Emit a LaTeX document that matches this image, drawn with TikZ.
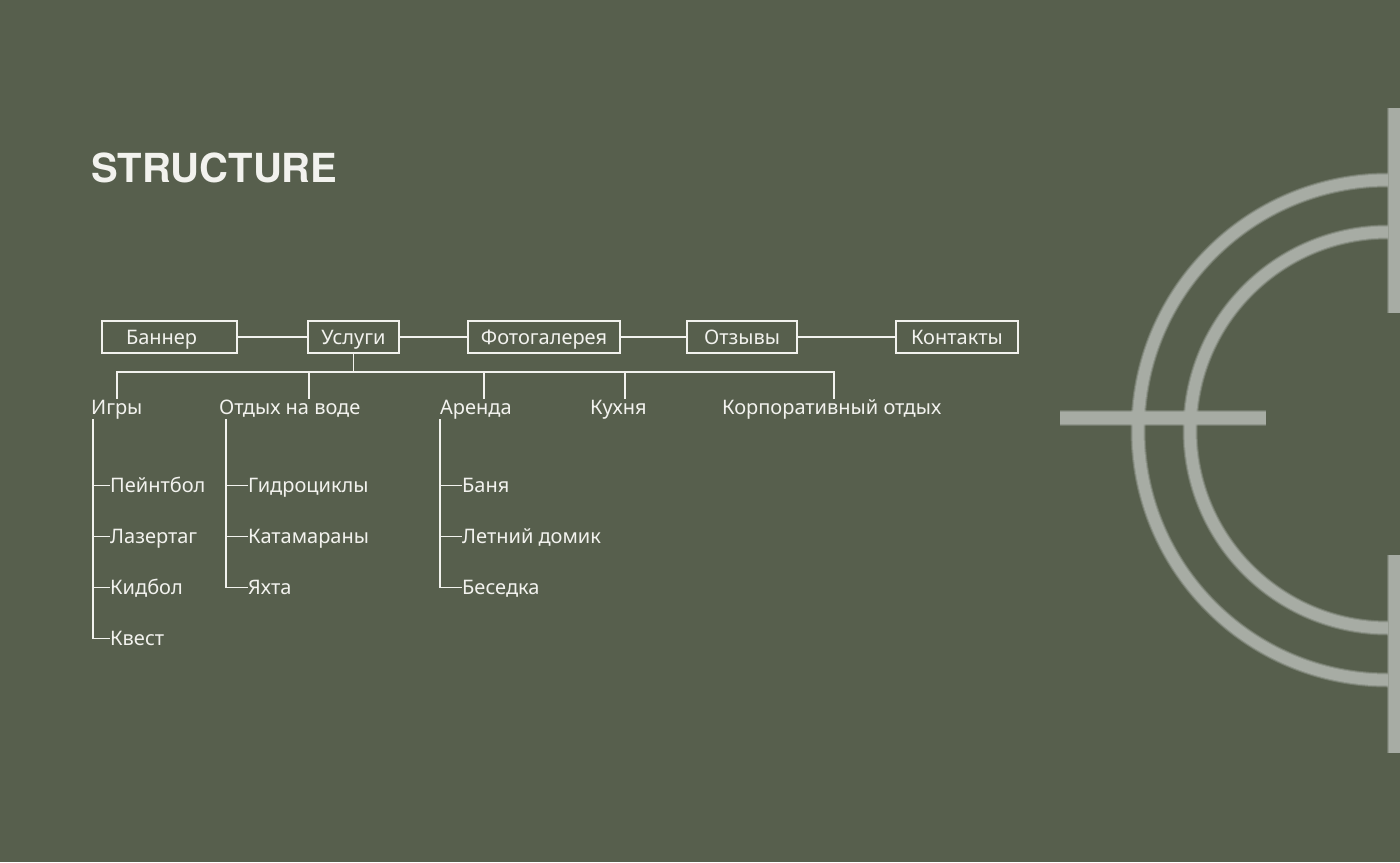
\documentclass[tikz,border=0pt]{standalone}
\usepackage{fontspec}
\setmainfont{Noto Sans}
\newfontfamily\titlefont{TeX Gyre Heros}
\definecolor{bg}{HTML}{575F4D}
\definecolor{ink}{HTML}{F2F2EE}
\definecolor{ring}{HTML}{A7ACA4}
\tikzset{
  menubox/.style={draw=ink, line width=1.8pt, text=ink, minimum height=32pt,
    text height=14pt, text depth=0pt, inner ysep=0pt},
  cat/.style={anchor=base west, text=ink, inner sep=2pt, text height=13pt, text depth=4pt},
  item/.style={anchor=base west, text=ink, inner sep=0pt, text height=13pt, text depth=0pt},
  wire/.style={draw=ink, line width=1.8pt},
  title/.style={anchor=base west, text=ink, inner sep=0pt,
    font=\titlefont\bfseries\fontsize{40}{40}\selectfont},
}
\begin{document}
\begin{tikzpicture}[x=1pt, y=-1pt, font=\fontsize{20}{22}\selectfont]
\fill[bg] (0,0) rectangle (1400,862);
\useasboundingbox (0,0) rectangle (1400,862);

% sight
\coordinate (ringc) at (1388,430);
\begin{scope}
\clip (0,0) rectangle (1388,862);
\foreach \w/\o in {15/0.35, 13/0.6, 11/1} {
  \draw[ring, line width=\w pt, opacity=\o] (ringc) circle[radius=250];
  \draw[ring, line width=\w pt, opacity=\o] (ringc) circle[radius=198];
}
\end{scope}
\foreach \w/\o in {16/0.35, 14/0.6, 12/1} {
  \draw[ring, line width=\w pt, opacity=\o] (1060,418) -- (1266,418);
  \draw[ring, line width=\w pt, opacity=\o] (1395,108) -- (1395,313);
  \draw[ring, line width=\w pt, opacity=\o] (1395,555) -- (1395,753);
}

\node[title] (title) at (91,182) {STRUCTURE};

\node[menubox, text width=87pt, align=left, inner xsep=24pt] (banner) at (169.5,337) {Баннер};
\node[menubox, minimum width=91pt] (services) at (353.5,337) {Услуги};
\node[menubox, minimum width=152pt] (gallery) at (544,337) {Фотогалерея};
\node[menubox, minimum width=110pt] (reviews) at (742,337) {Отзывы};
\node[menubox, minimum width=122pt] (contacts) at (957,337) {Контакты};

\draw[wire] (banner) -- (services);
\draw[wire] (services) -- (gallery);
\draw[wire] (gallery) -- (reviews);
\draw[wire] (reviews) -- (contacts);

\node[cat] (games) at (89,414) {Игры};
\node[cat] (water) at (217,414) {Отдых на воде};
\node[cat] (rent) at (438,414) {Аренда};
\node[cat] (kitchen) at (588,414) {Кухня};
\node[cat] (corporate) at (720,414) {Корпоративный отдых};

\coordinate (dgames) at (117,372);
\coordinate (dwater) at (309,372);
\coordinate (drent) at (484,372);
\coordinate (dkitchen) at (625,372);
\coordinate (dcorporate) at (834,372);

\draw[wire] (services.south) -- (services.south |- dgames);
\draw[wire] (dgames |- games.north) -- (dgames) -- (dcorporate) -- (dcorporate |- corporate.north);
\foreach \n in {water,rent,kitchen}
  \draw[wire] (d\n) -- (d\n |- \n.north);

\node[item] (g1) at (110,492) {Пейнтбол};
\node[item] (g2) at (110,543) {Лазертаг};
\node[item] (g3) at (110,594) {Кидбол};
\node[item] (g4) at (110,645) {Квест};

\node[item] (w1) at (248,492) {Гидроциклы};
\node[item] (w2) at (248,543) {Катамараны};
\node[item] (w3) at (248,594) {Яхта};

\node[item] (r1) at (462,492) {Баня};
\node[item] (r2) at (462,543) {Летний домик};
\node[item] (r3) at (462,594) {Беседка};

\coordinate (gtop) at (93,419);
\coordinate (wtop) at (226,419);
\coordinate (rtop) at (440,419);

\draw[wire] (gtop) |- (g4.west);
\foreach \n in {g1,g2,g3}
  \draw[wire] (gtop |- \n.west) -- (\n.west);
\draw[wire] (wtop) |- (w3.west);
\foreach \n in {w1,w2}
  \draw[wire] (wtop |- \n.west) -- (\n.west);
\draw[wire] (rtop) |- (r3.west);
\foreach \n in {r1,r2}
  \draw[wire] (rtop |- \n.west) -- (\n.west);
\end{tikzpicture}
\end{document}
